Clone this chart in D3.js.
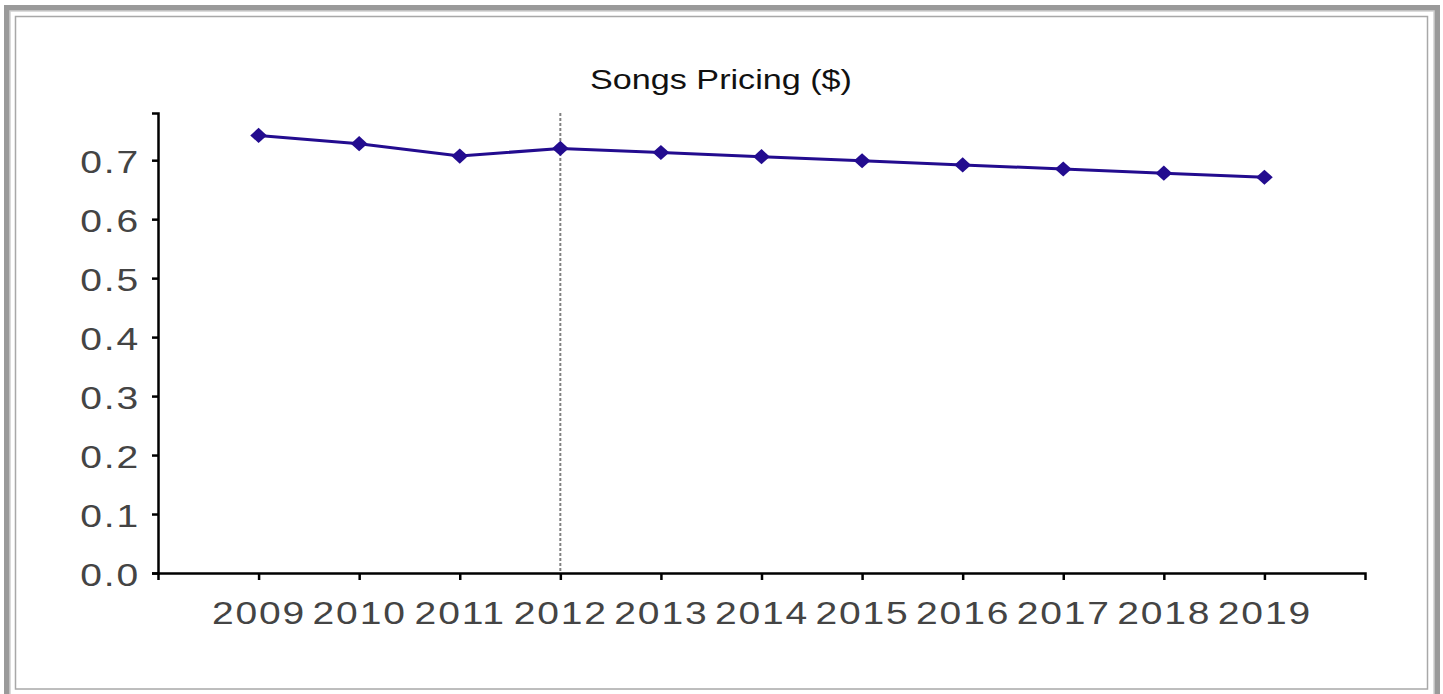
<!DOCTYPE html>
<html>
<head>
<meta charset="utf-8">
<script src="https://cdn.jsdelivr.net/npm/d3@7"></script>
<style>
  html, body { margin: 0; padding: 0; background: #fff; }
  svg { display: block; }
  text { font-family: "Liberation Sans", Arial, sans-serif; }
</style>
</head>
<body>
<svg id="chart" width="1443" height="694"></svg>
<script>
const years = ["2009","2010","2011","2012","2013","2014","2015","2016","2017","2018","2019"];
const prices = [0.742, 0.728, 0.707, 0.720, 0.713, 0.706, 0.699, 0.692, 0.685, 0.678, 0.671];
const yTicks = [0, 0.1, 0.2, 0.3, 0.4, 0.5, 0.6, 0.7];
const markerYear = "2012";
const title = "Songs Pricing ($)";

const svg = d3.select("#chart");

// frame
svg.append("rect").attr("x", 7).attr("y", 8).attr("width", 1430).attr("height", 700)
  .attr("fill", "none").attr("stroke", "#9a9a9a").attr("stroke-width", 6);
svg.append("rect").attr("x", 10).attr("y", 11).attr("width", 1424).attr("height", 690)
  .attr("fill", "none").attr("stroke", "#d0d0d0").attr("stroke-width", 1.5);
svg.append("rect").attr("x", 15.5).attr("y", 16.5).attr("width", 1412).attr("height", 672.5)
  .attr("fill", "#fff").attr("stroke", "#a8a8a8").attr("stroke-width", 1.5);

const x = d3.scalePoint().domain(years).range([158, 1365]).padding(1);
const y = d3.scaleLinear().domain([0, 0.78]).range([573, 113]);

// title
svg.append("text")
  .attr("transform", "translate(721,89) scale(1.22,1)")
  .attr("text-anchor", "middle")
  .attr("font-size", 28)
  .attr("fill", "#111")
  .text(title);

// x axis
const gx = svg.append("g").attr("transform", "translate(0,573)")
  .call(d3.axisBottom(x).tickSizeOuter(0).tickSize(7));
gx.select(".domain").attr("stroke", "#000").attr("stroke-width", 2.5);
gx.selectAll(".tick line").attr("stroke", "#000").attr("stroke-width", 2.5);
gx.selectAll(".tick text")
  .attr("y", null).attr("dy", null)
  .attr("transform", "translate(0,51) scale(1.22,1)")
  .attr("text-anchor", "middle")
  .attr("font-size", 32)
  .attr("letter-spacing", 1.5)
  .attr("font-family", "Liberation Sans, Arial, sans-serif")
  .attr("fill", "#444");

// y axis
const gy = svg.append("g").attr("transform", "translate(158,0)")
  .call(d3.axisLeft(y).tickValues(yTicks).tickFormat(d3.format(".1f")).tickSizeOuter(0).tickSize(6));
gy.select(".domain").attr("stroke", "#000").attr("stroke-width", 2.5);
gy.selectAll(".tick line").attr("stroke", "#000").attr("stroke-width", 2.5);
gy.selectAll(".tick text")
  .attr("x", null).attr("dy", null)
  .attr("transform", "translate(-18,12) scale(1.22,1)")
  .attr("text-anchor", "end")
  .attr("font-size", 32)
  .attr("letter-spacing", 1.5)
  .attr("font-family", "Liberation Sans, Arial, sans-serif")
  .attr("fill", "#444");

// dotted vertical marker
svg.append("line")
  .attr("x1", x(markerYear)).attr("x2", x(markerYear))
  .attr("y1", y.range()[1]).attr("y2", y(0))
  .attr("stroke", "#808080").attr("stroke-width", 2).attr("stroke-dasharray", "3,2");

const data = years.map((yr, i) => ({ year: yr, value: prices[i] }));

svg.append("path").datum(data)
  .attr("fill", "none")
  .attr("stroke", "#230c8f")
  .attr("stroke-width", 3)
  .attr("d", d3.line().x(d => x(d.year)).y(d => y(d.value)));

const sym = d3.symbol().type(d3.symbolSquare).size(115);
svg.selectAll(".pt").data(data).join("path")
  .attr("class", "pt")
  .attr("d", sym)
  .attr("transform", d => `translate(${x(d.year)},${y(d.value)}) scale(1.1,1) rotate(45)`)
  .attr("fill", "#230c8f");
</script>
</body>
</html>
